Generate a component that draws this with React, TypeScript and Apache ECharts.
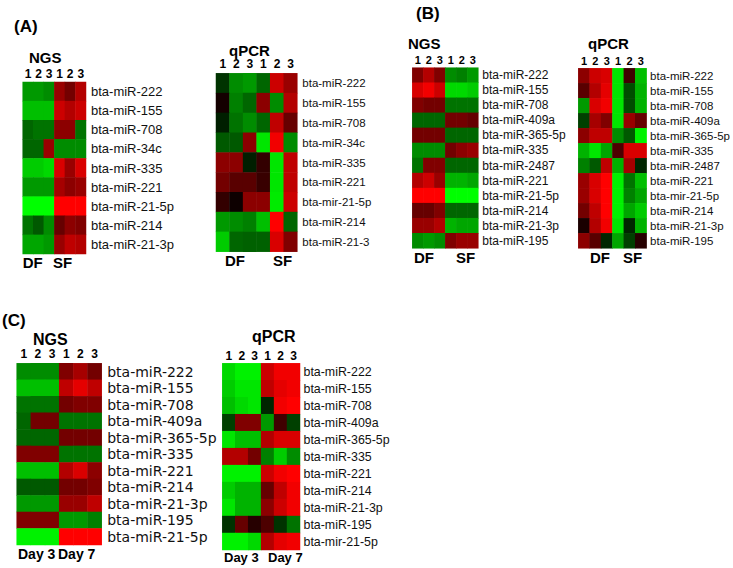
import React, { useEffect, useRef } from 'react';
import * as echarts from 'echarts';

// Column labels (replicates 1-3 for each condition)
const COLS = ['1', '2', '3', '1', '2', '3'];

// Panel A - NGS
const A_NGS_ROWS = ['bta-miR-222', 'bta-miR-155', 'bta-miR-708', 'bta-miR-34c', 'bta-miR-335', 'bta-miR-221', 'bta-miR-21-5p', 'bta-miR-214', 'bta-miR-21-3p'];
const A_NGS_VALUES = [
  [-0.6, -0.6, -0.55, 0.6, 0.45, 0.7],
  [-0.75, -0.75, -0.75, 0.8, 0.7, 0.8],
  [-0.4, -0.45, -0.45, 0.55, 0.55, -0.45],
  [-0.4, -0.4, 0.6, -0.55, -0.55, -0.55],
  [-0.8, -0.8, -0.85, 0.85, 0.6, 0.85],
  [-0.6, -0.6, -0.6, 0.65, 0.55, 0.6],
  [-1, -1, -1, 1, 1, 1],
  [-0.45, -0.35, -0.55, 0.4, 0.55, 0.5],
  [-0.65, -0.65, -0.6, 0.6, 0.75, 0.7],
];

// Panel A - qPCR
const A_QPCR_ROWS = ['bta-miR-222', 'bta-miR-155', 'bta-miR-708', 'bta-miR-34c', 'bta-miR-335', 'bta-miR-221', 'bta-mir-21-5p', 'bta-miR-214', 'bta-miR-21-3'];
const A_QPCR_VALUES = [
  [-0.2, -0.55, -0.6, -0.4, 0.8, 0.6],
  [0.08, -0.5, -0.4, 0.55, -0.55, 0.7],
  [-0.12, -0.45, -0.55, -0.4, 0.75, 0.4],
  [-0.35, -0.35, 0.55, -0.9, 0.95, -0.55],
  [0.55, 0.55, -0.12, 0.2, -0.9, 0.75],
  [0.45, 0.35, 0.35, 0.22, -0.9, 0.75],
  [0.2, 0.05, 0.55, 0.55, -0.92, 0.8],
  [-0.6, -0.55, -0.5, -0.75, 1, -0.4],
  [-0.8, -0.4, -0.38, -0.38, 0.85, 0.5],
];

// Panel B - NGS
const B_NGS_ROWS = ['bta-miR-222', 'bta-miR-155', 'bta-miR-708', 'bta-miR-409a', 'bta-miR-365-5p', 'bta-miR-335', 'bta-miR-2487', 'bta-miR-221', 'bta-miR-21-5p', 'bta-miR-214', 'bta-miR-21-3p', 'bta-miR-195'];
const B_NGS_VALUES = [
  [0.5, 0.7, 0.5, -0.55, -0.5, -0.6],
  [0.85, 0.95, 0.8, -0.85, -0.85, -0.8],
  [0.5, 0.45, 0.45, -0.45, -0.45, -0.45],
  [-0.4, -0.4, -0.4, 0.45, 0.45, 0.4],
  [0.45, 0.45, 0.45, -0.4, -0.4, -0.4],
  [-0.55, -0.55, -0.55, 0.45, 0.55, 0.6],
  [-0.45, 0.5, 0.5, -0.4, -0.4, -0.4],
  [0.7, 0.8, 0.6, -0.7, -0.7, -0.65],
  [1, 1, 1, -1, -1, -1],
  [0.4, 0.4, 0.5, -0.4, -0.4, -0.4],
  [0.6, 0.6, 0.7, -0.7, -0.65, -0.65],
  [-0.55, -0.6, -0.55, 0.5, 0.6, 0.6],
];

// Panel B - qPCR
const B_QPCR_ROWS = ['bta-miR-222', 'bta-miR-155', 'bta-miR-708', 'bta-miR-409a', 'bta-miR-365-5p', 'bta-miR-335', 'bta-miR-2487', 'bta-miR-221', 'bta-mir-21-5p', 'bta-miR-214', 'bta-miR-21-3p', 'bta-miR-195'];
const B_QPCR_VALUES = [
  [0.55, 0.8, 0.85, -0.9, 0.25, -0.75],
  [0.35, 0.7, 0.9, -0.9, -0.3, -0.7],
  [-0.6, 0.85, 0.95, -0.9, -0.3, -0.7],
  [-0.25, 0.65, 0.5, -0.9, 0.6, 0.4],
  [0.55, 0.75, 0.75, -0.55, -0.35, -0.95],
  [-0.7, -0.9, -0.65, 0.3, 0.85, 0.85],
  [-0.5, -0.35, 0.75, -0.7, 0.65, -0.15],
  [0.6, 0.85, 1, -0.95, -0.45, -0.75],
  [0.6, 0.85, 1, -0.95, -0.5, -0.65],
  [0.45, 0.75, 1, -0.95, -0.65, -0.8],
  [0.1, 0.7, 0.95, -0.9, -0.15, -0.7],
  [0.55, 0.35, -0.15, -0.65, -0.25, 0.15],
];

// Panel C - NGS
const C_NGS_ROWS = ['bta-miR-222', 'bta-miR-155', 'bta-miR-708', 'bta-miR-409a', 'bta-miR-365-5p', 'bta-miR-335', 'bta-miR-221', 'bta-miR-214', 'bta-miR-21-3p', 'bta-miR-195', 'bta-miR-21-5p'];
const C_NGS_VALUES = [
  [-0.55, -0.55, -0.55, 0.5, 0.65, 0.45],
  [-0.75, -0.75, -0.75, 0.75, 0.9, 0.75],
  [-0.45, -0.45, -0.45, 0.45, 0.5, 0.5],
  [-0.4, 0.45, 0.45, -0.45, -0.45, -0.45],
  [-0.4, -0.4, -0.4, 0.45, 0.45, 0.45],
  [0.5, 0.5, 0.5, -0.45, -0.45, -0.45],
  [-0.75, -0.75, -0.75, 0.7, 0.85, 0.55],
  [-0.35, -0.35, -0.35, 0.45, 0.45, 0.5],
  [-0.6, -0.6, -0.6, 0.6, 0.6, 0.75],
  [0.5, 0.5, 0.5, -0.6, -0.6, -0.5],
  [-0.95, -0.95, -0.95, 1, 1, 1],
];

// Panel C - qPCR
const C_QPCR_ROWS = ['bta-miR-222', 'bta-miR-155', 'bta-miR-708', 'bta-miR-409a', 'bta-miR-365-5p', 'bta-miR-335', 'bta-miR-221', 'bta-miR-214', 'bta-miR-21-3p', 'bta-miR-195', 'bta-mir-21-5p'];
const C_QPCR_VALUES = [
  [-0.85, -0.95, -0.95, 0.8, 0.95, 0.95],
  [-0.8, -0.9, -0.9, 0.75, 0.9, 0.95],
  [-0.75, -0.85, -0.9, -0.15, 0.95, 1],
  [-0.25, 0.5, 0.5, -0.6, 0.25, -0.25],
  [-0.9, -0.75, -0.75, 0.7, 0.85, 0.85],
  [0.7, 0.7, 0.45, -0.5, -0.8, -0.55],
  [-0.95, -0.95, -0.95, 0.8, 0.95, 1],
  [-0.8, -0.7, -0.7, 0.4, 0.75, 0.95],
  [-0.9, -0.7, -0.7, 0.55, 0.8, 0.95],
  [-0.2, 0.4, 0.15, 0.3, -0.2, -0.45],
  [-0.95, -0.95, -0.85, 0.7, 0.9, 0.95],
];

const SANS = "'Liberation Sans', Arial, Helvetica, sans-serif";
const WIDE = "'DejaVu Sans', 'Liberation Sans', sans-serif";

export default function App() {
  const ref = useRef<HTMLDivElement>(null);

  useEffect(() => {
    if (!ref.current) return;
    const chart = echarts.init(ref.current, null, { renderer: 'svg' });

    const blocks = [
      { rows: A_NGS_ROWS, values: A_NGS_VALUES, grid: { left: 22.7, top: 82, width: 63.3, height: 172 }, lf: 13, lfam: SANS, lm: 5, df: 12, dm: 2 },
      { rows: A_QPCR_ROWS, values: A_QPCR_VALUES, grid: { left: 216, top: 73.3, width: 81.3, height: 178.4 }, lf: 11.5, lfam: SANS, lm: 5, df: 12, dm: 3 },
      { rows: B_NGS_ROWS, values: B_NGS_VALUES, grid: { left: 412.3, top: 67.7, width: 66, height: 180.6 }, lf: 12, lfam: SANS, lm: 4, df: 11, dm: 2.5 },
      { rows: B_QPCR_ROWS, values: B_QPCR_VALUES, grid: { left: 578.3, top: 68.3, width: 70, height: 180 }, lf: 11.5, lfam: SANS, lm: 3.5, df: 11, dm: 1.5 },
      { rows: C_NGS_ROWS, values: C_NGS_VALUES, grid: { left: 16.7, top: 363.3, width: 85, height: 181.7 }, lf: 14, lfam: WIDE, lm: 5.5, df: 12, dm: 3 },
      { rows: C_QPCR_ROWS, values: C_QPCR_VALUES, grid: { left: 222.3, top: 363.3, width: 77.7, height: 186.7 }, lf: 12.4, lfam: SANS, lm: 3.5, df: 12, dm: 1 },
    ];

    const boldText = (text: string, x: number, y: number, size: number) => ({
      type: 'text',
      x,
      y,
      style: {
        text,
        fill: '#000',
        font: `bold ${size}px ${SANS}`,
        textAlign: 'left',
        textVerticalAlign: 'middle',
      },
    });

    const option: any = {
      animation: false,
      backgroundColor: '#fff',
      grid: blocks.map((b) => ({ ...b.grid, containLabel: false })),
      xAxis: blocks.map((b, i) => ({
        gridIndex: i,
        type: 'category',
        position: 'top',
        data: COLS,
        axisLine: { show: false },
        axisTick: { show: false },
        splitLine: { show: false },
        axisLabel: { margin: b.dm, fontSize: b.df, fontWeight: 'bold', color: '#000', fontFamily: SANS, interval: 0 },
      })),
      yAxis: blocks.map((b, i) => ({
        gridIndex: i,
        type: 'category',
        inverse: true,
        position: 'right',
        data: b.rows,
        axisLine: { show: false },
        axisTick: { show: false },
        splitLine: { show: false },
        axisLabel: { margin: b.lm, fontSize: b.lf, color: '#111', fontFamily: b.lfam, interval: 0 },
      })),
      visualMap: {
        type: 'continuous',
        show: false,
        min: -1,
        max: 1,
        seriesIndex: [0, 1, 2, 3, 4, 5],
        inRange: { color: ['#00ff00', '#000000', '#ff0000'] },
      },
      series: blocks.map((b, i) => ({
        type: 'heatmap',
        xAxisIndex: i,
        yAxisIndex: i,
        data: b.values.flatMap((row, r) => row.map((v, c) => [c, r, v])),
        itemStyle: { borderWidth: 0 },
        emphasis: { disabled: true },
      })),
      graphic: [
        boldText('(A)', 14, 26.5, 17),
        boldText('NGS', 29, 57.5, 15),
        boldText('qPCR', 229, 50, 15),
        boldText('DF', 22.7, 262, 15),
        boldText('SF', 53, 262, 15),
        boldText('DF', 225, 260, 15),
        boldText('SF', 273, 260, 15),
        boldText('(B)', 416, 13, 17),
        boldText('NGS', 408, 43, 15),
        boldText('qPCR', 588, 43.5, 15),
        boldText('DF', 414, 257.5, 15),
        boldText('SF', 456, 257.5, 15),
        boldText('DF', 590, 257.5, 15),
        boldText('SF', 623, 257.5, 15),
        boldText('(C)', 2, 320.5, 17),
        boldText('NGS', 33, 339, 16),
        boldText('qPCR', 252, 336.5, 16),
        boldText('Day 3', 18, 554, 14),
        boldText('Day 7', 58, 554, 14),
        boldText('Day 3', 224, 557, 13),
        boldText('Day 7', 268, 557, 13),
      ],
    };

    chart.setOption(option);
    return () => chart.dispose();
  }, []);

  return <div ref={ref} style={{ position: 'absolute', left: 0, top: 0, width: 733, height: 568 }} />;
}
